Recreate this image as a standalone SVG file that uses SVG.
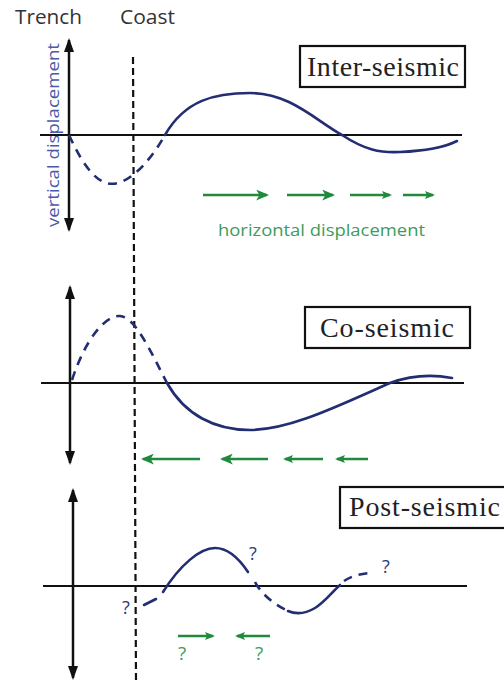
<svg xmlns="http://www.w3.org/2000/svg" width="504" height="681" viewBox="0 0 504 681">
<defs>
<marker id="ah" viewBox="0 0 14 10" refX="12" refY="5" markerWidth="14" markerHeight="10" markerUnits="userSpaceOnUse" orient="auto-start-reverse"><path d="M0,0 L14,5 L0,10 Z" fill="#111"/></marker>
<marker id="gh" viewBox="0 0 12 10" refX="10" refY="5" markerWidth="13" markerHeight="11" markerUnits="userSpaceOnUse" orient="auto"><path d="M0,0 L12,5 L0,10 L3,5 Z" fill="#1f8a3c"/></marker>
<marker id="gs" viewBox="0 0 10 8" refX="8" refY="4" markerWidth="10" markerHeight="8" markerUnits="userSpaceOnUse" orient="auto"><path d="M0,0 L10,4 L0,8 L2,4 Z" fill="#1f8a3c"/></marker>
</defs>
<style>
.axis{stroke:#111;stroke-width:2.5;fill:none}
.base{stroke:#111;stroke-width:2;fill:none}
.coast{stroke:#111;stroke-width:2.2;stroke-dasharray:7 4;fill:none}
.curve{stroke:#232d72;stroke-width:2.6;fill:none;stroke-linecap:round}
.dash{stroke:#232d72;stroke-width:2.6;fill:none;stroke-dasharray:9 7}
.garrow{stroke:#1f8a3c;stroke-width:2.5;fill:none}
.box{fill:#fff;stroke:#111;stroke-width:2.2}
.title{font-family:"Liberation Serif",serif;font-size:28px;fill:#222}
.hdr{font-family:"Open Sans","Liberation Sans",sans-serif;font-size:20px;fill:#333}
.q{font-family:"Open Sans","Liberation Sans",sans-serif;font-size:18px;fill:#2a3a7a}
.gq{font-family:"Open Sans","Liberation Sans",sans-serif;font-size:19px;fill:#3d9b5c}
</style>
<rect width="504" height="681" fill="#fff"/>
<g id="labels">
<text class="hdr" x="15" y="24" textLength="67" lengthAdjust="spacingAndGlyphs">Trench</text>
<text class="hdr" x="120" y="24" textLength="55" lengthAdjust="spacingAndGlyphs">Coast</text>
<text x="0" y="0" transform="translate(59,135) rotate(-90)" text-anchor="middle" font-family="'Open Sans','Liberation Sans',sans-serif" font-size="17" fill="#4a5aa8" textLength="184" lengthAdjust="spacingAndGlyphs">vertical displacement</text>
</g>
<g id="connectors">
<line class="coast" x1="133" y1="57" x2="136" y2="681"/>
<line class="axis" x1="69" y1="40" x2="69" y2="230" marker-start="url(#ah)" marker-end="url(#ah)"/>
<line class="axis" x1="70" y1="287" x2="70" y2="463" marker-start="url(#ah)" marker-end="url(#ah)"/>
<line class="axis" x1="73" y1="490" x2="73" y2="678" marker-start="url(#ah)" marker-end="url(#ah)"/>
</g>
<g id="inter-seismic">
<line class="base" x1="40" y1="135" x2="462" y2="135"/>
<path class="dash" d="M69,135 C85,170 100,188 118,183 C135,178 152,158 165,135"/>
<path class="curve" d="M165,135 C185,100 215,93 250,93 C290,93 315,120 342,135 C365,150 380,153 400,152 C425,151 445,147 457,141"/>
<rect class="box" x="300" y="46" width="165" height="41"/>
<text class="title" x="307" y="76" textLength="152">Inter-seismic</text>
<line class="garrow" x1="203" y1="195" x2="267" y2="195" marker-end="url(#gh)"/>
<line class="garrow" x1="287" y1="195" x2="333" y2="195" marker-end="url(#gh)"/>
<line class="garrow" x1="350" y1="195" x2="390" y2="195" marker-end="url(#gs)"/>
<line class="garrow" x1="403" y1="195" x2="433" y2="195" marker-end="url(#gs)"/>
<text x="218" y="236" font-family="'Open Sans','Liberation Sans',sans-serif" font-size="17" fill="#3d9b5c" textLength="207" lengthAdjust="spacingAndGlyphs">horizontal displacement</text>
</g>
<g id="co-seismic">
<line class="base" x1="41" y1="383" x2="464" y2="383"/>
<path class="dash" d="M72,380 C85,340 105,315 120,316 C135,317 150,350 167,383"/>
<path class="curve" d="M167,383 C185,415 215,430 250,430 C290,430 340,405 390,383 Q420,372 452,378"/>
<rect class="box" x="305" y="307" width="165" height="41"/>
<text class="title" x="320" y="337" textLength="134">Co-seismic</text>
<line class="garrow" x1="200" y1="459" x2="143" y2="459" marker-end="url(#gh)"/>
<line class="garrow" x1="268" y1="459" x2="222" y2="459" marker-end="url(#gh)"/>
<line class="garrow" x1="323" y1="459" x2="285" y2="459" marker-end="url(#gs)"/>
<line class="garrow" x1="368" y1="459" x2="337" y2="459" marker-end="url(#gs)"/>
</g>
<g id="post-seismic">
<line class="base" x1="43" y1="586" x2="467" y2="586"/>
<path class="curve" d="M144,605 L156,599"/>
<path class="curve" d="M163,592 C180,565 200,548 215,548 C228,548 240,560 248,572"/>
<path class="dash" d="M255,582 C262,595 275,605 288,611"/>
<path class="curve" d="M288,611 C295,614 305,614 315,608 C325,602 332,592 340,585"/>
<path class="dash" d="M344,581 C350,577 358,574 370,573" stroke-dasharray="7 6"/>
<text class="q" x="122" y="614">?</text>
<text class="q" x="249" y="560">?</text>
<text class="q" x="382" y="573">?</text>
<rect class="box" x="340" y="487" width="170" height="41"/>
<text class="title" x="349" y="516" textLength="151">Post-seismic</text>
<line class="garrow" x1="178" y1="636" x2="213" y2="636" marker-end="url(#gs)"/>
<line class="garrow" x1="270" y1="636" x2="237" y2="636" marker-end="url(#gs)"/>
<text class="gq" x="178" y="660">?</text>
<text class="gq" x="255" y="660">?</text>
</g>
</svg>
